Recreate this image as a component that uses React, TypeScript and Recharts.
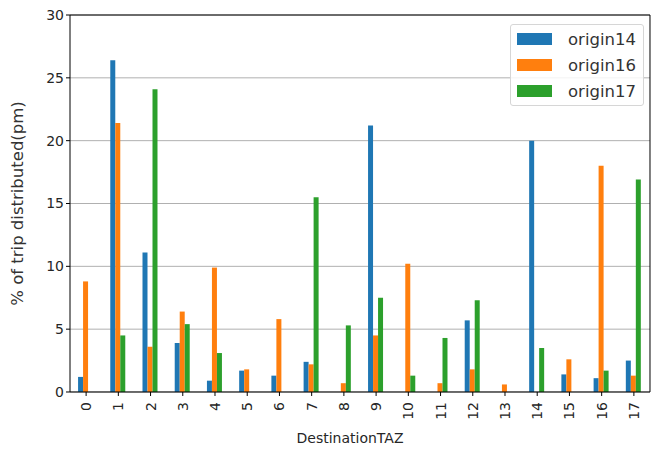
import React from 'react';
import { BarChart, Bar, XAxis, YAxis, CartesianGrid } from 'recharts';

const categories = ['0', '1', '2', '3', '4', '5', '6', '7', '8', '9', '10', '11', '12', '13', '14', '15', '16', '17'];
const origin14 = [1.2, 26.4, 11.1, 3.9, 0.9, 1.7, 1.3, 2.4, 0, 21.2, 0, 0, 5.7, 0, 20.0, 1.4, 1.1, 2.5];
const origin16 = [8.8, 21.4, 3.6, 6.4, 9.9, 1.8, 5.8, 2.2, 0.7, 4.5, 10.2, 0.7, 1.8, 0.6, 0, 2.6, 18.0, 1.3];
const origin17 = [0, 4.5, 24.1, 5.4, 3.1, 0, 0, 15.5, 5.3, 7.5, 1.3, 4.3, 7.3, 0, 3.5, 0, 1.7, 16.9];
const yTicks = [0, 5, 10, 15, 20, 25, 30];

const series = [
  { key: 'origin14', color: '#1f77b4' },
  { key: 'origin16', color: '#ff7f0e' },
  { key: 'origin17', color: '#2ca02c' },
];

const data = categories.map((c, i) => ({
  name: c,
  origin14: origin14[i],
  origin16: origin16[i],
  origin17: origin17[i],
}));

const font = 'DejaVu Sans, sans-serif';

function XTick(props: any) {
  const { x, y, payload } = props;
  return (
    <text
      x={0}
      y={0}
      transform={`translate(${x + 5},${y + 4}) rotate(-90)`}
      textAnchor="end"
      fontSize={14}
      fontFamily={font}
      fill="#262626"
    >
      {payload.value}
    </text>
  );
}

function LegendBox() {
  return (
    <div
      style={{
        position: 'absolute',
        left: 510,
        top: 24,
        width: 134,
        height: 82,
        boxSizing: 'border-box',
        border: '1px solid #d6d6d6',
        borderRadius: 3,
        background: 'rgba(255,255,255,0.85)',
        padding: '1px 0 0 6px',
        fontFamily: font,
        fontSize: 16.5,
        color: '#333',
      }}
    >
      {series.map((s) => (
        <div key={s.key} style={{ display: 'flex', alignItems: 'center', height: 26 }}>
          <span style={{ width: 35, height: 12, background: s.color, marginRight: 16, flexShrink: 0 }} />
          <span>{s.key}</span>
        </div>
      ))}
    </div>
  );
}

export default function App() {
  return (
    <div style={{ position: 'absolute', left: 0, top: 0, width: 653, height: 454, background: '#fff' }}>
      <BarChart
        width={653}
        height={454}
        data={data}
        margin={{ top: 15, right: 3, left: 0, bottom: 62 }}
        barCategoryGap="25%"
        barGap={0}
      >
        <CartesianGrid vertical={false} stroke="#b0b0b0" strokeWidth={1} />
        <XAxis
          dataKey="name"
          interval={0}
          tick={<XTick />}
          tickSize={4}
          axisLine={{ stroke: '#000' }}
          tickLine={{ stroke: '#000' }}
          height={0.01}
          label={{
            value: 'DestinationTAZ',
            position: 'insideBottom',
            dx: -10,
            dy: 56,
            fontSize: 14,
            fontFamily: font,
            fill: '#262626',
          }}
        />
        <XAxis xAxisId="top" orientation="top" dataKey="name" tick={false} tickLine={false} axisLine={{ stroke: '#000' }} height={0.01} />
        <YAxis
          domain={[0, 30]}
          ticks={yTicks}
          interval={0}
          width={70}
          tickSize={4}
          axisLine={{ stroke: '#000' }}
          tickLine={{ stroke: '#000' }}
          tick={{ fontSize: 14, fontFamily: font, fill: '#262626' }}
          label={{
            value: '% of trip distributed(pm)',
            angle: -90,
            position: 'insideLeft',
            dx: 12,
            dy: 0,
            style: { textAnchor: 'middle' },
            fontSize: 16.5,
            fontFamily: font,
            fill: '#333',
          }}
        />
        <YAxis yAxisId="right" orientation="right" tick={false} tickLine={false} axisLine={{ stroke: '#000' }} width={0.01} />
        {series.map((s) => (
          <Bar key={s.key} dataKey={s.key} fill={s.color} isAnimationActive={false} />
        ))}
      </BarChart>
      <LegendBox />
    </div>
  );
}
